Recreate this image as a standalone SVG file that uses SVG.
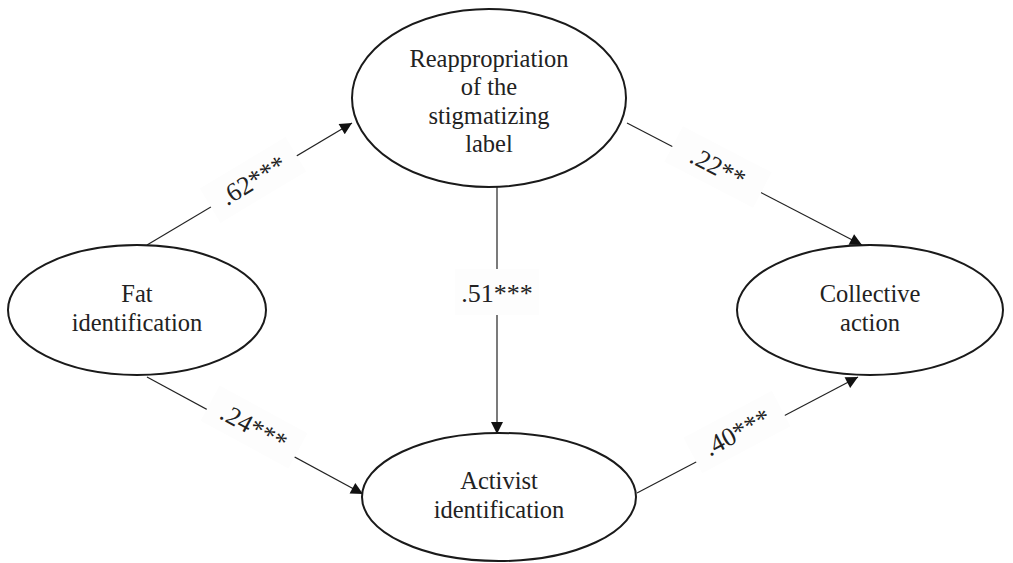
<svg xmlns="http://www.w3.org/2000/svg" width="1013" height="563" viewBox="0 0 1013 563">
<style>
.node ellipse{fill:#fff;stroke:#1a1a1a;stroke-width:2}
.node text{font-family:"Liberation Serif","Times New Roman",serif;font-size:24.5px;fill:#222;text-anchor:middle}
.conn line{stroke:#222;stroke-width:1.2}
.lbl rect{fill:#fdfdfd}
.lbl text{font-family:"Liberation Serif","Times New Roman",serif;font-size:26px;fill:#222;text-anchor:middle}
</style>
<defs>
<marker id="ah" viewBox="0 0 10 10" refX="10" refY="5" markerWidth="13" markerHeight="12" markerUnits="userSpaceOnUse" orient="auto">
<path d="M0,0 L10,5 L0,10 z" fill="#111"/>
</marker>
</defs>
<rect width="1013" height="563" fill="#fff"/>
<g id="connectors" class="conn">
<line x1="147" y1="245" x2="352" y2="123" marker-end="url(#ah)"/>
<line x1="627" y1="123" x2="862" y2="245" marker-end="url(#ah)"/>
<line x1="147" y1="377" x2="363" y2="494" marker-end="url(#ah)"/>
<line x1="637" y1="493" x2="858" y2="377" marker-end="url(#ah)"/>
<line x1="497" y1="187" x2="497" y2="434" marker-end="url(#ah)"/>
</g>
<g id="labels" class="lbl">
<g transform="translate(253,180) rotate(-31)"><rect x="-50" y="-20" width="100" height="40"/><text y="9">.62***</text></g>
<g transform="translate(718,167) rotate(27.5)"><rect x="-50" y="-20" width="100" height="40"/><text y="9">.22**</text></g>
<g transform="translate(254,427) rotate(28.5)"><rect x="-50" y="-20" width="100" height="40"/><text y="9">.24***</text></g>
<g transform="translate(737,432) rotate(-28)"><rect x="-50" y="-20" width="100" height="40"/><text y="9">.40***</text></g>
<g transform="translate(497,293)"><rect x="-42" y="-24" width="84" height="46"/><text y="9">.51***</text></g>
</g>
<g id="node-reappropriation" class="node">
<ellipse cx="489" cy="98" rx="137" ry="89"/>
<text x="489" y="67">Reappropriation</text>
<text x="489" y="95">of the</text>
<text x="489" y="124">stigmatizing</text>
<text x="489" y="152">label</text>
</g>
<g id="node-fat" class="node">
<ellipse cx="137" cy="310" rx="129" ry="65"/>
<text x="137" y="302">Fat</text>
<text x="137" y="331">identification</text>
</g>
<g id="node-collective" class="node">
<ellipse cx="870" cy="310" rx="133" ry="65"/>
<text x="870" y="302">Collective</text>
<text x="870" y="331">action</text>
</g>
<g id="node-activist" class="node">
<ellipse cx="499" cy="497" rx="137" ry="64"/>
<text x="499" y="489">Activist</text>
<text x="499" y="518">identification</text>
</g>
</svg>
